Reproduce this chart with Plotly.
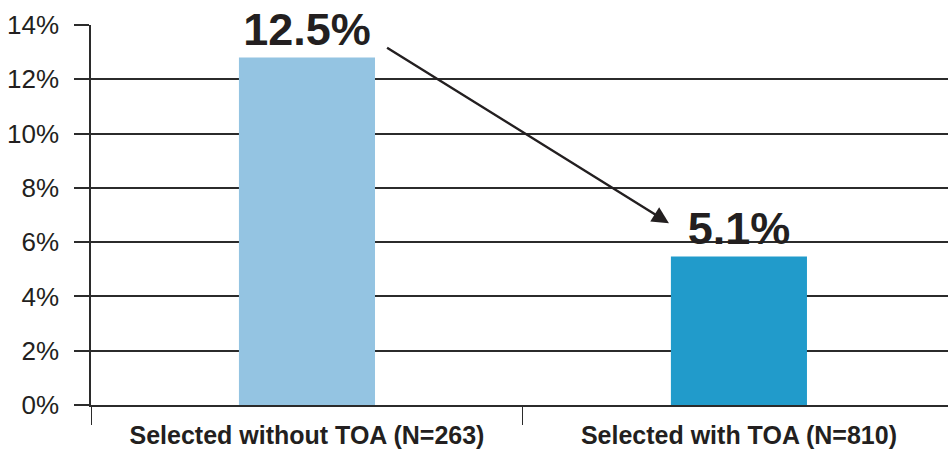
import plotly.graph_objects as go

categories = ["Selected without TOA (N=263)", "Selected with TOA (N=810)"]
bar_values = [12.8, 5.47]
bar_labels = ["12.5%", "5.1%"]
bar_colors = ["#94C4E2", "#219BCB"]
y_ticks = [0, 2, 4, 6, 8, 10, 12, 14]
y_tick_labels = [f"{v}%" for v in y_ticks]

TEXT = "#231f20"
LINE = "#2b2b2b"
FONT = "Liberation Sans, Arial, sans-serif"

fig = go.Figure()
fig.add_trace(go.Bar(
    x=categories,
    y=bar_values,
    marker=dict(color=bar_colors, line=dict(width=0)),
    width=0.315,
    text=bar_labels,
    textposition="outside",
    textfont=dict(family=FONT, size=45, color=TEXT, weight="bold"),
    cliponaxis=False,
    hoverinfo="skip",
))

# arrow from first label towards second
fig.add_annotation(
    x=0.838, y=6.7, ax=0.182, ay=13.2,
    xref="x", yref="y", axref="x", ayref="y",
    text="", showarrow=True,
    arrowhead=2, arrowsize=1.4, arrowwidth=2.4, arrowcolor=TEXT,
)

fig.update_layout(
    width=948, height=450,
    margin=dict(l=91, r=0, t=25, b=45, autoexpand=False),
    paper_bgcolor="white", plot_bgcolor="white",
    showlegend=False,
    font=dict(family=FONT, color=TEXT),
)
fig.update_xaxes(
    type="category",
    range=[-0.5, 1.484],
    tickson="boundaries",
    ticks="outside", ticklen=18, tickwidth=1.3, tickcolor=LINE,
    ticklabelstandoff=7,
    tickfont=dict(family=FONT, size=25, color=TEXT, weight="bold"),
    showline=True, linecolor=LINE, linewidth=1.5,
    showgrid=False, zeroline=False, automargin=False,
)
fig.update_yaxes(
    range=[0, 14],
    tickmode="array", tickvals=y_ticks, ticktext=y_tick_labels,
    ticks="outside", ticklen=15, tickwidth=1.5, tickcolor=LINE,
    ticklabelstandoff=10,
    tickfont=dict(family=FONT, size=26, color=TEXT),
    showline=True, linecolor=LINE, linewidth=1.5,
    showgrid=True, gridcolor=LINE, gridwidth=1.5,
    zeroline=False, automargin=False,
)

fig.write_html("out.html")
